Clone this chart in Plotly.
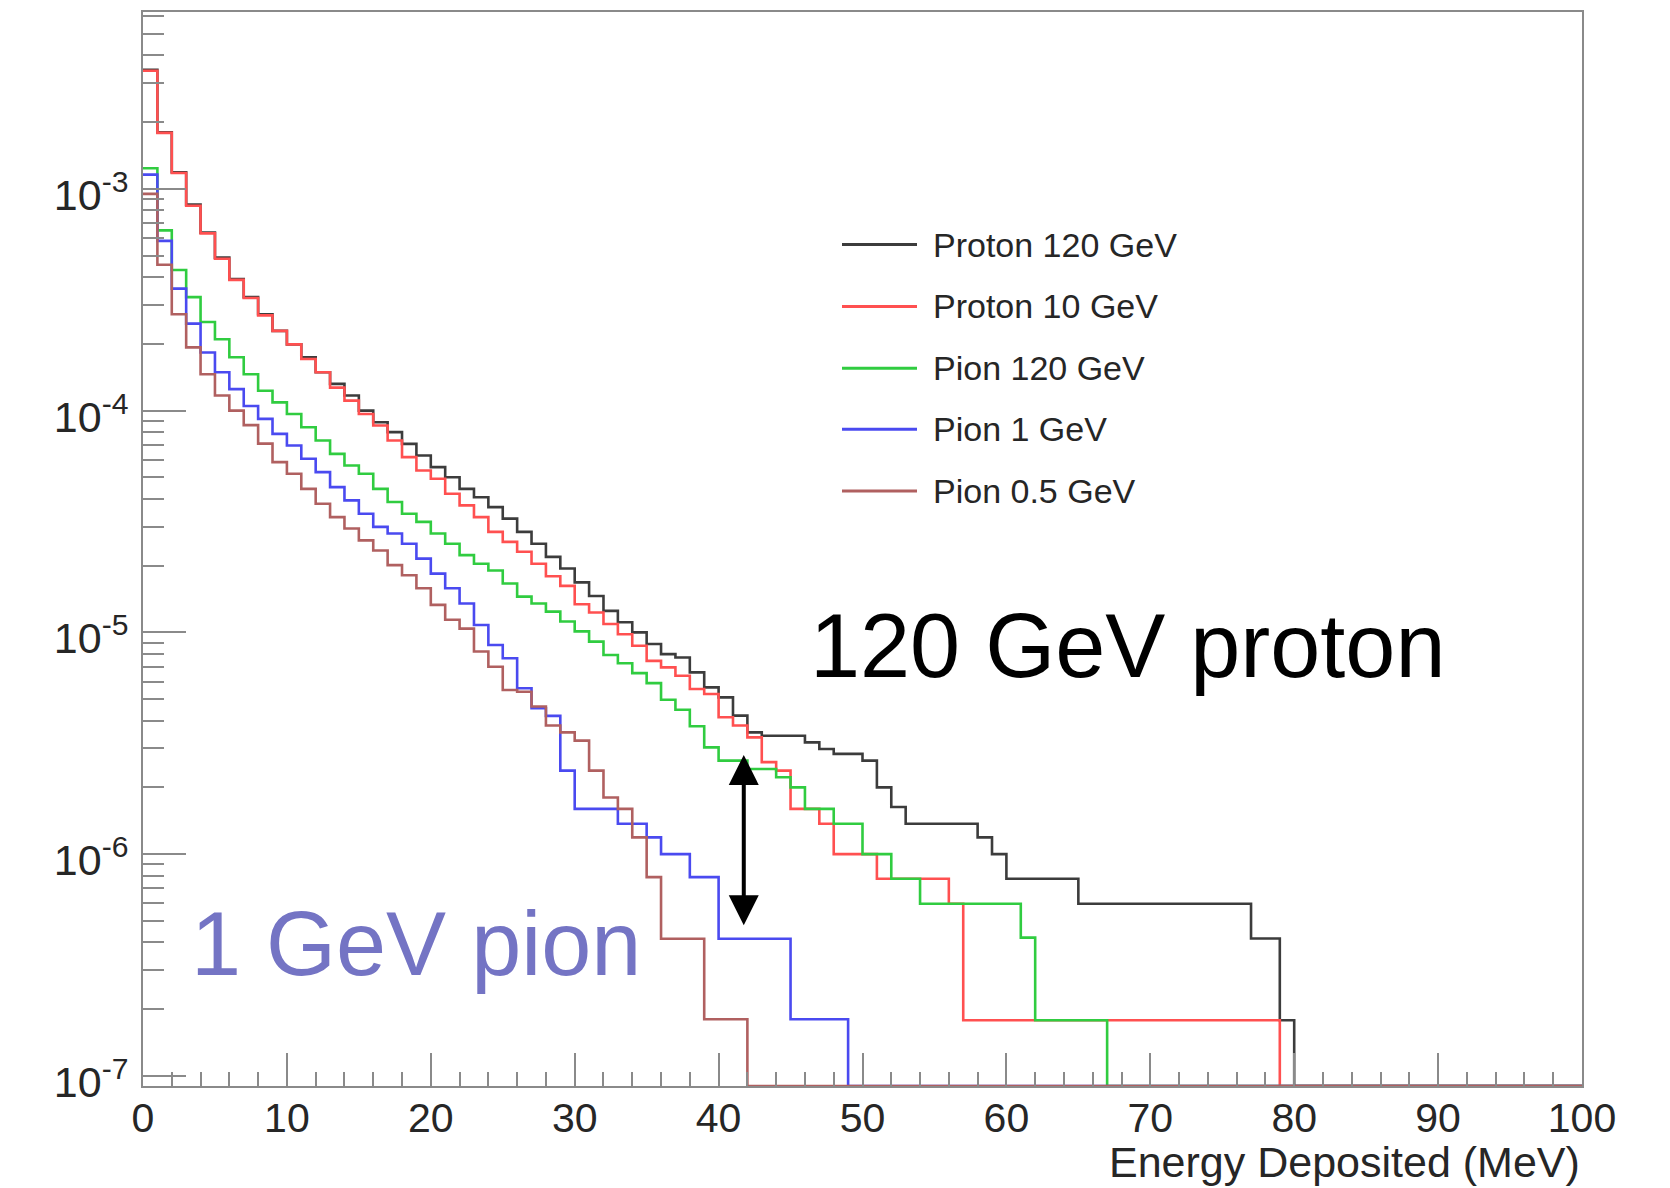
import numpy as np
import plotly.graph_objects as go

# Energy deposited per 1 MeV bin (normalised), 100 bins from 0 to 100 MeV
bin_edges = np.arange(0, 101, 1)

proton_120 = [3.45e-3, 1.80e-3, 1.19e-3, 8.5e-4, 6.35e-4, 4.9e-4, 3.92e-4, 3.25e-4, 2.72e-4, 2.29e-4,
              1.99e-4, 1.74e-4, 1.49e-4, 1.32e-4, 1.17e-4, 1.0e-4, 8.87e-5, 8.0e-5, 7.08e-5, 6.28e-5,
              5.56e-5, 5.01e-5, 4.44e-5, 4.07e-5, 3.67e-5, 3.26e-5, 2.84e-5, 2.51e-5, 2.19e-5, 1.94e-5,
              1.68e-5, 1.46e-5, 1.25e-5, 1.11e-5, 1.0e-5, 8.86e-6, 7.98e-6, 7.7e-6, 6.6e-6, 5.65e-6,
              5.09e-6, 4.21e-6, 3.54e-6, 3.42e-6, 3.42e-6, 3.42e-6, 3.19e-6, 2.98e-6, 2.83e-6, 2.83e-6,
              2.64e-6, 2.0e-6, 1.63e-6, 1.37e-6, 1.37e-6, 1.37e-6, 1.37e-6, 1.37e-6, 1.19e-6, 1.0e-6,
              7.74e-7, 7.74e-7, 7.74e-7, 7.74e-7, 7.74e-7, 5.97e-7, 5.97e-7, 5.97e-7, 5.97e-7, 5.97e-7,
              5.97e-7, 5.97e-7, 5.97e-7, 5.97e-7, 5.97e-7, 5.97e-7, 5.97e-7, 4.16e-7, 4.16e-7, 1.78e-7,
              0, 0, 0, 0, 0, 0, 0, 0, 0, 0,
              0, 0, 0, 0, 0, 0, 0, 0, 0, 0]

proton_10 = [3.41e-3, 1.79e-3, 1.18e-3, 8.4e-4, 6.3e-4, 4.84e-4, 3.89e-4, 3.22e-4, 2.69e-4, 2.29e-4,
             1.99e-4, 1.71e-4, 1.49e-4, 1.27e-4, 1.11e-4, 9.66e-5, 8.57e-5, 7.33e-5, 6.17e-5, 5.37e-5,
             4.93e-5, 4.22e-5, 3.74e-5, 3.31e-5, 2.84e-5, 2.56e-5, 2.31e-5, 2.04e-5, 1.79e-5, 1.62e-5,
             1.34e-5, 1.23e-5, 1.09e-5, 9.8e-6, 8.7e-6, 7.44e-6, 6.95e-6, 6.37e-6, 5.55e-6, 5.27e-6,
             4.14e-6, 3.8e-6, 3.36e-6, 2.6e-6, 2.38e-6, 1.6e-6, 1.6e-6, 1.37e-6, 1.0e-6, 1.0e-6,
             1.0e-6, 7.74e-7, 7.74e-7, 7.74e-7, 7.74e-7, 7.74e-7, 5.97e-7, 1.78e-7, 1.78e-7, 1.78e-7,
             1.78e-7, 1.78e-7, 1.78e-7, 1.78e-7, 1.78e-7, 1.78e-7, 1.78e-7, 1.78e-7, 1.78e-7, 1.78e-7,
             1.78e-7, 1.78e-7, 1.78e-7, 1.78e-7, 1.78e-7, 1.78e-7, 1.78e-7, 1.78e-7, 1.78e-7, 0,
             0, 0, 0, 0, 0, 0, 0, 0, 0, 0,
             0, 0, 0, 0, 0, 0, 0, 0, 0, 0]

pion_120 = [1.24e-3, 6.5e-4, 4.31e-4, 3.25e-4, 2.51e-4, 2.1e-4, 1.74e-4, 1.46e-4, 1.23e-4, 1.09e-4,
            9.66e-5, 8.41e-5, 7.33e-5, 6.38e-5, 5.66e-5, 5.19e-5, 4.44e-5, 3.87e-5, 3.43e-5, 3.15e-5,
            2.79e-5, 2.51e-5, 2.23e-5, 2.04e-5, 1.9e-5, 1.66e-5, 1.45e-5, 1.35e-5, 1.24e-5, 1.12e-5,
            1.01e-5, 9.08e-6, 7.91e-6, 7.26e-6, 6.55e-6, 5.9e-6, 4.97e-6, 4.48e-6, 3.77e-6, 3.03e-6,
            2.64e-6, 2.64e-6, 2.42e-6, 2.42e-6, 2.22e-6, 2.0e-6, 1.6e-6, 1.6e-6, 1.37e-6, 1.37e-6,
            1.0e-6, 1.0e-6, 7.74e-7, 7.74e-7, 5.97e-7, 5.97e-7, 5.97e-7, 5.97e-7, 5.97e-7, 5.97e-7,
            5.97e-7, 4.2e-7, 1.78e-7, 1.78e-7, 1.78e-7, 1.78e-7, 1.78e-7, 0, 0, 0,
            0, 0, 0, 0, 0, 0, 0, 0, 0, 0,
            0, 0, 0, 0, 0, 0, 0, 0, 0, 0,
            0, 0, 0, 0, 0, 0, 0, 0, 0, 0]

pion_1 = [1.16e-3, 5.83e-4, 3.55e-4, 2.47e-4, 1.83e-4, 1.49e-4, 1.25e-4, 1.05e-4, 9.18e-5, 7.86e-5,
          6.96e-5, 6.07e-5, 5.28e-5, 4.52e-5, 3.94e-5, 3.43e-5, 2.99e-5, 2.79e-5, 2.51e-5, 2.15e-5,
          1.84e-5, 1.58e-5, 1.35e-5, 1.08e-5, 8.77e-6, 7.64e-6, 5.6e-6, 4.55e-6, 4.2e-6, 2.38e-6,
          1.6e-6, 1.6e-6, 1.6e-6, 1.37e-6, 1.37e-6, 1.19e-6, 1.0e-6, 1.0e-6, 7.87e-7, 7.87e-7,
          4.15e-7, 4.15e-7, 4.15e-7, 4.15e-7, 4.15e-7, 1.8e-7, 1.8e-7, 1.8e-7, 1.8e-7, 0,
          0, 0, 0, 0, 0, 0, 0, 0, 0, 0,
          0, 0, 0, 0, 0, 0, 0, 0, 0, 0,
          0, 0, 0, 0, 0, 0, 0, 0, 0, 0,
          0, 0, 0, 0, 0, 0, 0, 0, 0, 0,
          0, 0, 0, 0, 0, 0, 0, 0, 0, 0]

pion_05 = [9.5e-4, 4.55e-4, 2.72e-4, 1.93e-4, 1.46e-4, 1.17e-4, 1.0e-4, 8.6e-5, 7.1e-5, 5.86e-5,
           5.19e-5, 4.44e-5, 3.8e-5, 3.31e-5, 2.94e-5, 2.6e-5, 2.34e-5, 2.01e-5, 1.81e-5, 1.58e-5,
           1.33e-5, 1.14e-5, 1.04e-5, 8.2e-6, 7.0e-6, 5.5e-6, 5.4e-6, 4.63e-6, 3.8e-6, 3.54e-6,
           3.25e-6, 2.38e-6, 1.8e-6, 1.6e-6, 1.19e-6, 7.87e-7, 4.15e-7, 4.15e-7, 4.15e-7, 1.8e-7,
           1.8e-7, 1.8e-7, 0, 0, 0, 0, 0, 0, 0, 0,
           0, 0, 0, 0, 0, 0, 0, 0, 0, 0,
           0, 0, 0, 0, 0, 0, 0, 0, 0, 0,
           0, 0, 0, 0, 0, 0, 0, 0, 0, 0,
           0, 0, 0, 0, 0, 0, 0, 0, 0, 0,
           0, 0, 0, 0, 0, 0, 0, 0, 0, 0]

series_names = ["Proton 120 GeV", "Proton 10 GeV", "Pion 120 GeV", "Pion 1 GeV", "Pion 0.5 GeV"]
series_values = [proton_120, proton_10, pion_120, pion_1, pion_05]
series_colors = ["#3c3c3c", "#ff5050", "#30cc40", "#4a4af0", "#b06060"]

# y-axis decades and their labels
y_decades = [-7, -6, -5, -4, -3]
y_tick_labels = ["10<sup>-7</sup>", "10<sup>-6</sup>", "10<sup>-5</sup>", "10<sup>-4</sup>", "10<sup>-3</sup>"]

# separation marked at 41.75 MeV between the 120 GeV and 1 GeV curves
arrow_x = 41.75
arrow_top = 2.8e-6
arrow_bottom = 4.7e-7

# log10 range of the y axis and x range
y_lo, y_hi = -7.046, -2.202
x_lo, x_hi = 0, 100

FONT = "Liberation Sans, Arial, Helvetica, sans-serif"
FRAME = "#8a8a8a"
TEXT = "#262626"

fig = go.Figure()

floor = 10 ** y_lo
for name, vals, col in zip(series_names, series_values, series_colors):
    # empty bins sit on the lower edge of the frame, as in a log histogram
    y = [v if v > 0 else floor for v in vals]
    y = y + [y[-1]]
    fig.add_trace(go.Scatter(
        x=list(bin_edges), y=y, mode="lines", name=name,
        line=dict(color=col, width=2.6, shape="hv"),
        showlegend=False, hoverinfo="skip",
    ))

# plot geometry in pixels (for legend placement)
W, H = 1670, 1188
ml, mr, mt, mb = 143, 88, 10, 102
pw, ph = W - ml - mr, H - mt - mb


def px_x(X):
    return (X - ml) / pw


def px_y(Y):
    return (H - mb - Y) / ph


shapes = []
annotations = []

# legend without a box: long line samples followed by the series name
leg_rows = [243, 305, 367, 428, 490]
for name, col, Y in zip(series_names, series_colors, leg_rows):
    shapes.append(dict(type="line", xref="paper", yref="paper",
                       x0=px_x(842), x1=px_x(917), y0=px_y(Y), y1=px_y(Y),
                       line=dict(color=col, width=3)))
    annotations.append(dict(xref="paper", yref="paper", x=px_x(931), y=px_y(Y),
                            xanchor="left", yanchor="middle", showarrow=False,
                            text=name, font=dict(family=FONT, size=34, color=TEXT)))

# double-headed arrow
annotations.append(dict(xref="x", yref="y", axref="x", ayref="y",
                        x=arrow_x, y=np.log10(arrow_top),
                        ax=arrow_x, ay=np.log10(arrow_bottom),
                        text="", showarrow=True, arrowhead=2, arrowside="end+start",
                        arrowwidth=4, arrowsize=1.5, arrowcolor="black",
                        standoff=0, startstandoff=0))

# big labels
annotations.append(dict(xref="paper", yref="paper", x=px_x(808), y=px_y(645),
                        xanchor="left", yanchor="middle", showarrow=False,
                        text="120 GeV proton", font=dict(family=FONT, size=90, color="black")))
annotations.append(dict(xref="paper", yref="paper", x=px_x(189), y=px_y(944),
                        xanchor="left", yanchor="middle", showarrow=False,
                        text="1 GeV pion", font=dict(family=FONT, size=90, color="#7474c4")))

# x-axis title, right aligned under the axis
annotations.append(dict(xref="paper", yref="paper", x=1.0, y=px_y(1162),
                        xanchor="right", yanchor="middle", showarrow=False,
                        text="Energy Deposited (MeV)",
                        font=dict(family=FONT, size=43, color=TEXT)))

fig.update_layout(
    width=W, height=H,
    margin=dict(l=ml, r=mr, t=mt, b=mb, pad=0),
    paper_bgcolor="white", plot_bgcolor="white",
    shapes=shapes, annotations=annotations,
    font=dict(family=FONT, color=TEXT),
)

fig.update_xaxes(
    range=[x_lo, x_hi], dtick=10, tick0=0,
    showgrid=False, zeroline=False,
    showline=True, linecolor=FRAME, linewidth=2, mirror=True,
    ticks="inside", ticklen=33, tickwidth=2, tickcolor=FRAME,
    minor=dict(dtick=2, ticks="inside", ticklen=14, tickwidth=2, tickcolor=FRAME, showgrid=False),
    tickfont=dict(family=FONT, size=41, color=TEXT),
    ticklabelstandoff=-5,
)

# minor ticks at 2..9 within each decade
minor_vals = [k * 10.0 ** d for d in range(-8, -1) for k in range(2, 10)]

fig.update_yaxes(
    type="log", range=[y_lo, y_hi],
    tickmode="array", tickvals=[10.0 ** d for d in y_decades], ticktext=y_tick_labels,
    showgrid=False, zeroline=False,
    showline=True, linecolor=FRAME, linewidth=2, mirror=True,
    ticks="inside", ticklen=43, tickwidth=2, tickcolor=FRAME,
    minor=dict(tickmode="array", tickvals=minor_vals, ticks="inside", ticklen=21,
               tickwidth=2, tickcolor=FRAME, showgrid=False),
    tickfont=dict(family=FONT, size=43, color=TEXT),
    ticklabelstandoff=4, ticklabelshift=6,
)

fig.write_html("out.html", config={"displayModeBar": False})
